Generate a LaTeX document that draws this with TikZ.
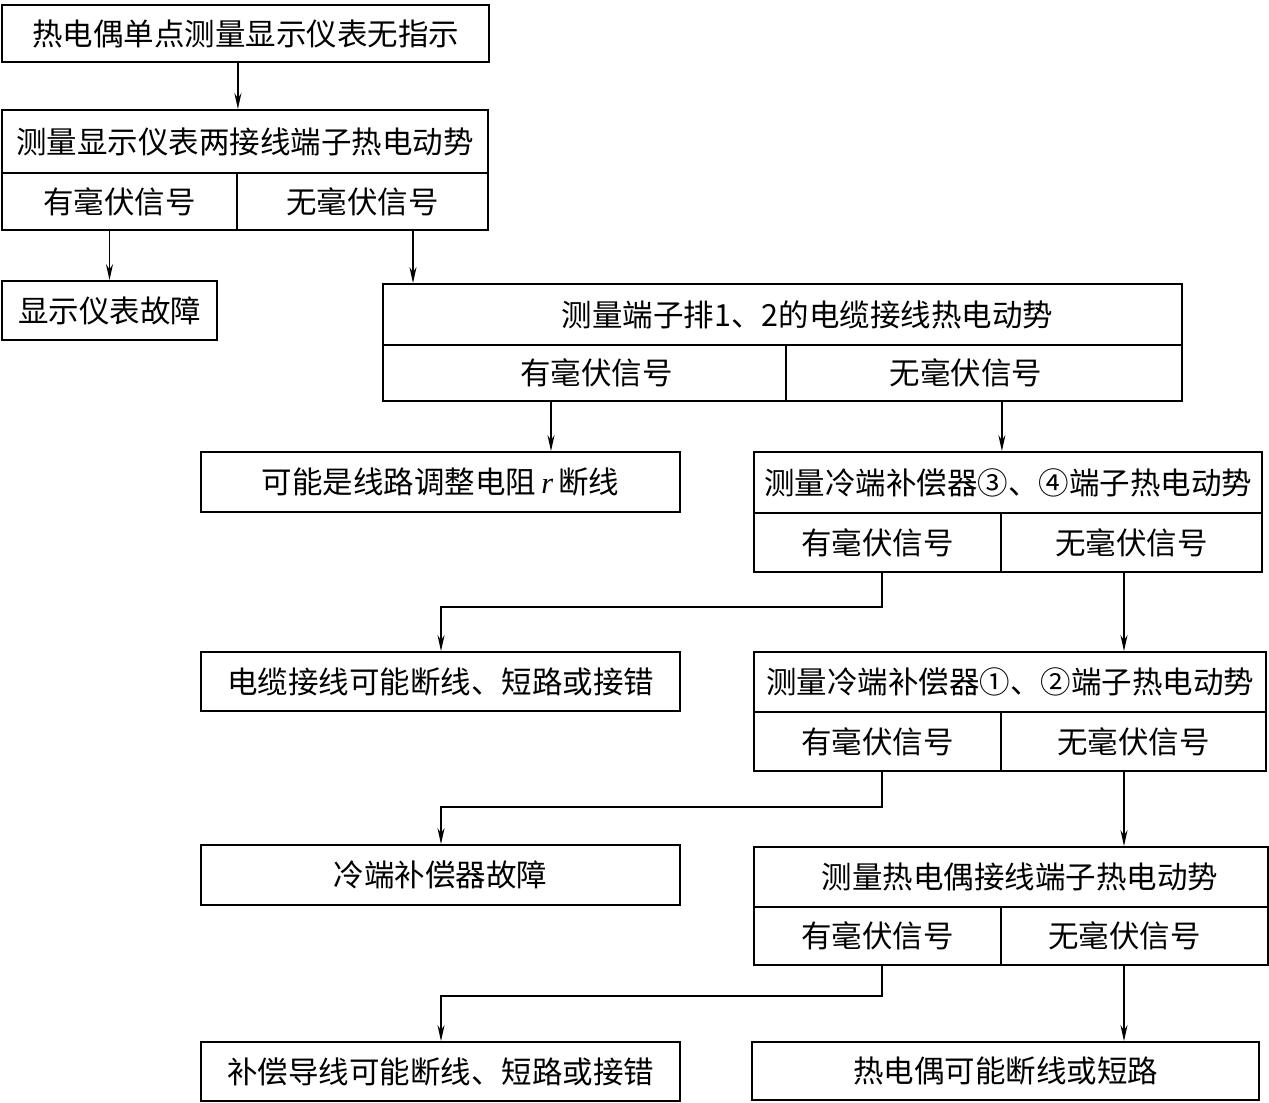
\documentclass[tikz,border=0pt]{standalone}
\usepackage{fontspec}
\setmainfont{Noto Sans CJK SC}
\newfontfamily\latinit{Liberation Serif}
\usetikzlibrary{arrows.meta,calc}
\begin{document}
\begin{tikzpicture}[x=1pt,y=-1pt,
  bx/.style={draw,line width=1.8pt,inner sep=0pt,minimum width=#1,
    font=\fontsize{30.5pt}{36pt}\selectfont},
  arr/.style={line width=1.6pt,-{Stealth[length=16pt,width=7pt]}}]
\useasboundingbox (0,0) rectangle (1269,1103);
% box 1
\node[bx=487pt,minimum height=57pt] (b1) at (245.5,33.5) {热电偶单点测量显示仪表无指示};
% box 2
\node[bx=486pt,minimum height=63pt] (b2) at (245,141.5) {测量显示仪表两接线端子热电动势};
\node[bx=235pt,minimum height=57pt] (c2l) at (119.5,201.5) {有毫伏信号};
\node[bx=251pt,minimum height=57pt] (c2r) at (362.5,201.5) {无毫伏信号};
% box 3
\node[bx=215pt,minimum height=59pt] (b3) at (109.5,310.5) {显示仪表故障};
% box 4
\node[bx=799pt,minimum height=61pt] (b4) at (782.5,314.5) {\hspace*{50pt}测量端子排1、2的电缆接线热电动势};
\node[bx=403pt,minimum height=56pt] (c4l) at (584.5,373) {\hspace*{24pt}有毫伏信号};
\node[bx=396pt,minimum height=56pt] (c4r) at (984,373) {\hspace*{-36pt}无毫伏信号};
% box 5
\node[bx=479pt,minimum height=60pt] (b5) at (440.5,482) {可能是线路调整电阻\,{\latinit\itshape r}\,断线};
% box 6
\node[bx=508pt,minimum height=61pt] (b6) at (1008,482.5) {测量冷端补偿器③、④端子热电动势};
\node[bx=247pt,minimum height=59pt] (c6l) at (877.5,542.5) {有毫伏信号};
\node[bx=261pt,minimum height=59pt] (c6r) at (1131.5,542.5) {无毫伏信号};
% box 7
\node[bx=479pt,minimum height=59pt] (b7) at (440.5,681.5) {电缆接线可能断线、短路或接错};
% box 8
\node[bx=512pt,minimum height=60pt] (b8) at (1010,682) {测量冷端补偿器①、②端子热电动势};
\node[bx=247pt,minimum height=59pt] (c8l) at (877.5,741.5) {有毫伏信号};
\node[bx=265pt,minimum height=59pt] (c8r) at (1133.5,741.5) {无毫伏信号};
% box 9
\node[bx=479pt,minimum height=60pt] (b9) at (440.5,875) {冷端补偿器故障};
% box 10
\node[bx=514pt,minimum height=60pt] (b10) at (1011,877) {\hspace*{18pt}测量热电偶接线端子热电动势};
\node[bx=247pt,minimum height=58pt] (c10l) at (877.5,936) {有毫伏信号};
\node[bx=267pt,minimum height=58pt] (c10r) at (1134.5,936) {\hspace*{-20pt}无毫伏信号};
% box 11, 12
\node[bx=479pt,minimum height=59pt] (b11) at (440.5,1071.5) {补偿导线可能断线、短路或接错};
\node[bx=507pt,minimum height=58pt] (b12) at (1005.5,1071) {热电偶可能断线或短路};
% connectors
\draw[arr] (b1.south -| c2l.east) -- (b2.north -| c2l.east);
\draw[arr] (c2l.south -| b3.north) -- (b3.north);
\coordinate (x2) at (413,0);
\draw[arr] (c2r.south -| x2) -- (b4.north -| x2);
\coordinate (x4l) at (551,0);
\draw[arr] (c4l.south -| x4l) -- (b5.north -| x4l);
\draw[arr] (c4r.south -| c6l.east) -- (b6.north -| c6l.east);
\coordinate (xr) at (1124,0);
\coordinate (xl) at (882,0);
\coordinate (xm) at (441,0);
\draw[arr] (c6l.south -| xl) -- ++(0,34) -| (b7.north -| xm);
\draw[arr] (c6r.south -| xr) -- (b8.north -| xr);
\draw[arr] (c8l.south -| xl) -- ++(0,35) -| (b9.north -| xm);
\draw[arr] (c8r.south -| xr) -- (b10.north -| xr);
\draw[arr] (c10l.south -| xl) -- ++(0,30) -| (b11.north -| xm);
\draw[arr] (c10r.south -| xr) -- (b12.north -| xr);
\end{tikzpicture}
\end{document}
